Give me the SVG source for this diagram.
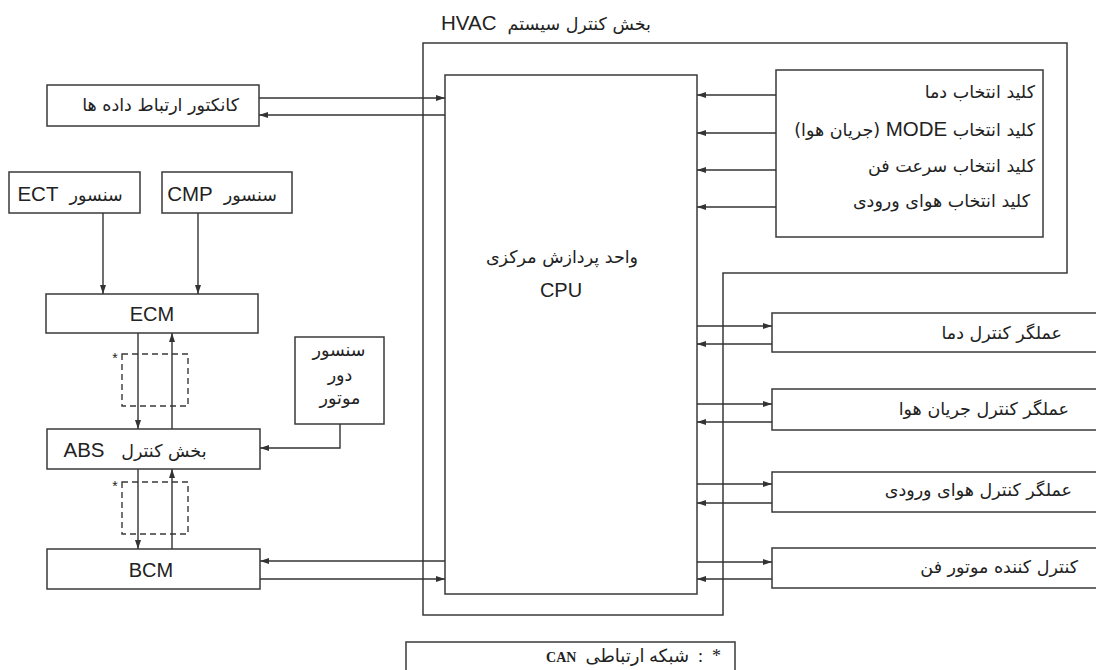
<svg xmlns="http://www.w3.org/2000/svg" width="1096" height="670" viewBox="0 0 1096 670">
<style>
.box{fill:#fff;stroke:#3a3a3a;stroke-width:1.5}
.bnd{fill:none;stroke:#3a3a3a;stroke-width:1.5}
.dash{fill:none;stroke:#3a3a3a;stroke-width:1.4;stroke-dasharray:6,4}
.ln{fill:none;stroke:#333;stroke-width:1.4;marker-end:url(#ah)}
.lat{font-family:"Liberation Sans",Arial,sans-serif;font-size:20px;fill:#222}
.fa{font-family:"DejaVu Sans","Noto Sans",sans-serif;font-size:17.5px;fill:#222}
.ls{font-family:"Liberation Sans",Arial,sans-serif;font-size:20.5px}
</style>
<defs>
<marker id="ah" markerUnits="userSpaceOnUse" markerWidth="10" markerHeight="8" refX="9" refY="3" orient="auto">
<path d="M0,0 L9,3 L0,6 Z" fill="#333"/>
</marker>
</defs>
<rect width="1096" height="670" fill="#fff"/>

<g id="hvac">
<path class="bnd" d="M423,43 H1067 V273 H723 V615 H423 Z"/>
<text class="fa" x="546" y="30" direction="rtl" text-anchor="middle" font-size="18" xml:space="preserve">بخش کنترل سیستم  <tspan class="ls" font-size="20">HVAC</tspan></text>
</g>

<g id="cpu">
<rect class="box" x="445" y="75" width="252" height="519"/>
<text class="fa" x="562" y="263" direction="rtl" text-anchor="middle">واحد پردازش مرکزی</text>
<text class="lat" x="561" y="297" text-anchor="middle">CPU</text>
</g>

<g id="switches">
<rect class="box" x="776" y="70" width="267" height="167"/>
<text class="fa" x="1035" y="98" direction="rtl" text-anchor="start">کلید انتخاب دما</text>
<text class="fa" x="1035" y="136" direction="rtl" text-anchor="start">کلید انتخاب <tspan class="ls" font-size="17.5">MODE</tspan> (جریان هوا)</text>
<text class="fa" x="1035" y="172" direction="rtl" text-anchor="start">کلید انتخاب سرعت فن</text>
<text class="fa" x="1030" y="207" direction="rtl" text-anchor="start">کلید انتخاب هوای ورودی</text>
</g>

<g id="data-connector">
<rect class="box" x="47" y="85" width="212" height="41"/>
<text class="fa" x="239" y="111" direction="rtl" text-anchor="start">کانکتور ارتباط داده ها</text>
</g>

<g id="ect">
<rect class="box" x="9" y="172" width="131" height="41"/>
<text class="fa" x="70" y="201" direction="rtl" text-anchor="middle" xml:space="preserve">سنسور  <tspan class="ls">ECT</tspan></text>
</g>

<g id="cmp">
<rect class="box" x="162" y="172" width="130" height="41"/>
<text class="fa" x="222" y="201" direction="rtl" text-anchor="middle" xml:space="preserve">سنسور  <tspan class="ls">CMP</tspan></text>
</g>

<g id="ecm">
<rect class="box" x="46" y="294" width="212" height="39"/>
<text class="lat" x="152" y="321" text-anchor="middle">ECM</text>
</g>

<g id="motor-sensor">
<rect class="box" x="295" y="337" width="89" height="87"/>
<text class="fa" x="339" y="356" text-anchor="middle" direction="rtl">سنسور</text>
<text class="fa" x="340" y="381" text-anchor="middle" direction="rtl">دور</text>
<text class="fa" x="340" y="404" text-anchor="middle" direction="rtl">موتور</text>
</g>

<g id="abs">
<rect class="box" x="47" y="429" width="213" height="40"/>
<text class="fa" x="135" y="457" direction="rtl" text-anchor="middle" xml:space="preserve">بخش کنترل   <tspan class="ls">ABS</tspan></text>
</g>

<g id="bcm">
<rect class="box" x="47" y="549" width="213" height="40"/>
<text class="lat" x="151" y="577" text-anchor="middle">BCM</text>
</g>

<g id="can1">
<rect class="dash" x="122" y="354" width="66" height="52"/>
<text x="115" y="363" font-family="Liberation Sans,sans-serif" font-size="14" text-anchor="middle" fill="#222">*</text>
</g>
<g id="can2">
<rect class="dash" x="122" y="482" width="66" height="52"/>
<text x="115" y="491" font-family="Liberation Sans,sans-serif" font-size="14" text-anchor="middle" fill="#222">*</text>
</g>

<g id="act-temp">
<rect class="box" x="772" y="313" width="330" height="39"/>
<text class="fa" x="1062" y="339" direction="rtl" text-anchor="start">عملگر کنترل دما</text>
</g>
<g id="act-flow">
<rect class="box" x="772" y="389" width="330" height="41"/>
<text class="fa" x="1069" y="415" direction="rtl" text-anchor="start">عملگر کنترل جریان هوا</text>
</g>
<g id="act-intake">
<rect class="box" x="772" y="472" width="330" height="40"/>
<text class="fa" x="1072" y="496" direction="rtl" text-anchor="start">عملگر کنترل هوای ورودی</text>
</g>
<g id="fan-ctrl">
<rect class="box" x="772" y="548" width="330" height="40"/>
<text class="fa" x="1078" y="573" direction="rtl" text-anchor="start">کنترل کننده موتور فن</text>
</g>

<g id="legend">
<rect class="box" x="406" y="642" width="329" height="40"/>
<text x="721" y="662" direction="rtl" text-anchor="start" font-family="Liberation Serif,DejaVu Sans,serif" font-size="18" fill="#222" xml:space="preserve">*  :  شبکه ارتباطی  <tspan font-weight="bold" font-size="14">CAN</tspan></text>
</g>

<g id="connectors">
<path class="ln" d="M259,98 H445"/>
<path class="ln" d="M445,115 H259"/>
<path class="ln" d="M103,213 V294"/>
<path class="ln" d="M198,213 V294"/>
<path class="ln" d="M138,333 V429"/>
<path class="ln" d="M172,429 V333"/>
<path class="ln" d="M138,469 V549"/>
<path class="ln" d="M172,549 V469"/>
<path class="ln" d="M340,424 V448 H260"/>
<path class="ln" d="M445,561 H260"/>
<path class="ln" d="M260,579 H445"/>
<path class="ln" d="M776,95 H697"/>
<path class="ln" d="M776,133 H697"/>
<path class="ln" d="M776,170 H697"/>
<path class="ln" d="M776,207 H697"/>
<path class="ln" d="M697,326 H772"/>
<path class="ln" d="M772,344 H697"/>
<path class="ln" d="M697,404 H772"/>
<path class="ln" d="M772,422 H697"/>
<path class="ln" d="M697,484 H772"/>
<path class="ln" d="M772,503 H697"/>
<path class="ln" d="M697,562 H772"/>
<path class="ln" d="M772,579 H697"/>
</g>
</svg>
